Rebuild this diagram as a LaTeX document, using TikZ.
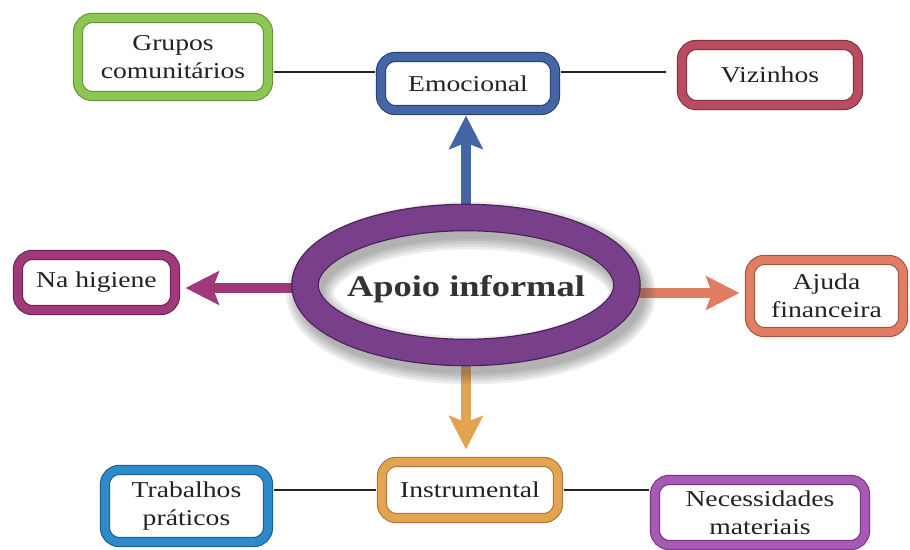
\documentclass[tikz,border=0pt]{standalone}
\usepackage{fontspec}
\setmainfont{Liberation Serif}[FakeStretch=1.22]
\usetikzlibrary{arrows.meta,calc,shapes.geometric}
\definecolor{cgreen}{HTML}{8DC651}\definecolor{cgreenE}{HTML}{5E8F3A}
\definecolor{cblue}{HTML}{4466A6}\definecolor{cblueE}{HTML}{2B3F6E}
\definecolor{cred}{HTML}{B94C60}\definecolor{credE}{HTML}{7A2E3C}
\definecolor{cmag}{HTML}{A0397A}\definecolor{cmagE}{HTML}{6A2250}
\definecolor{csal}{HTML}{E07D62}\definecolor{csalE}{HTML}{A0503C}
\definecolor{corg}{HTML}{E3A452}\definecolor{corgE}{HTML}{A87530}
\definecolor{ccyan}{HTML}{2D8ACB}\definecolor{ccyanE}{HTML}{1B5A8A}
\definecolor{cpur}{HTML}{A759B5}\definecolor{cpurE}{HTML}{6E3478}
\definecolor{cring}{HTML}{7A3F8A}\definecolor{cringE}{HTML}{4A2058}
\definecolor{ctext}{HTML}{222222}
\begin{document}
\begin{tikzpicture}[x=0.02cm,y=-0.02cm,
  box/.style={rectangle, rounded corners=8pt, inner sep=0pt, fill=white,
    line width=0.6pt, double distance=4.6pt, align=center, text=ctext,
    font=\fontsize{12.9pt}{16pt}\selectfont},
  link/.style={line width=1.1pt, draw=ctext},
  bigarrow/.style={line width=6.2pt, -{Stealth[length=19pt,width=19pt,inset=3.5pt]}}]
\useasboundingbox (0,0) rectangle (910,550);
\fill[white] (0,0) rectangle (910,550);
% central node (size only)
\node[ellipse, minimum width=7.02cm, minimum height=3.22cm, inner sep=0pt] (apoio) at (466,285) {};
% connector helper rows
\coordinate (yTop) at (0,72);
\coordinate (yL) at (0,288);
\coordinate (yR) at (0,293);
% boxes
\node[box, draw=cgreenE, double=cgreen, minimum width=3.8cm, minimum height=1.56cm] (grupos) at (173,57) {Grupos\\comunitários};
\node[box, draw=cblueE, double=cblue, minimum width=3.48cm, minimum height=1.06cm] (emoc) at (468,83.5) {Emocional};
\node[box, draw=credE, double=cred, minimum width=3.52cm, minimum height=1.2cm] (viz) at (770,75) {Vizinhos};
\node[box, draw=cmagE, double=cmag, minimum width=3.14cm, minimum height=1.1cm] (hig) at (96.5,282.5) {Na higiene};
\node[box, draw=csalE, double=csal, minimum width=3.06cm, minimum height=1.44cm] (ajuda) at (826.5,296) {Ajuda\\financeira};
\node[box, draw=corgE, double=corg, minimum width=3.52cm, minimum height=1.12cm] (instr) at (470,490) {Instrumental};
\node[box, draw=ccyanE, double=ccyan, minimum width=3.26cm, minimum height=1.44cm] (trab) at (186.5,506) {Trabalhos\\práticos};
\node[box, draw=cpurE, double=cpur, minimum width=4.2cm, minimum height=1.3cm] (nec) at (760,512.5) {Necessidades\\materiais};
% thin connectors
\draw[link] ($(grupos.east |- yTop)+(5,0)$) -- ($(emoc.west |- yTop)+(-5,0)$);
\draw[link] ($(emoc.east |- yTop)+(5,0)$) -- ($(viz.west |- yTop)+(-15,0)$);
\draw[link] ($(trab.east |- instr.west)+(5,0)$) -- ($(instr.west)+(-5,0)$);
\draw[link] ($(instr.east)+(5,0)$) -- ($(nec.west |- instr.east)+(-5,0)$);
% big arrows
\draw[bigarrow, draw=cblue, fill=cblue] ($(apoio.north)+(0,12)$) -- ($(apoio.north |- emoc.south)+(0,5)$);
\draw[bigarrow, draw=cmag, fill=cmag] ($(apoio.west |- yL)+(12,0)$) -- ($(hig.east |- yL)+(10,0)$);
\draw[bigarrow, draw=csal, fill=csal] ($(apoio.east |- yR)+(-12,0)$) -- ($(ajuda.west |- yR)+(-10,0)$);
\draw[bigarrow, draw=corg, fill=corg] ($(apoio.south)+(0,-12)$) -- ($(apoio.south |- instr.north)+(0,-12)$);
% ring shadow
\foreach \w in {27,24,21,18,15.3}{
  \draw[black!70, opacity=0.1, line width=\w pt] ($(apoio.center)+(5,8)$) ellipse [x radius=3.22cm, y radius=1.35cm];
}
% ring
\draw[cringE, line width=0.7pt, double=cring, double distance=14.3pt] (apoio.center) ellipse [x radius=3.22cm, y radius=1.35cm];
\node[anchor=base, text=black!80, font=\fontsize{17pt}{20pt}\selectfont\bfseries] (apoiotxt) at (466,297) {Apoio informal};
\end{tikzpicture}
\end{document}
